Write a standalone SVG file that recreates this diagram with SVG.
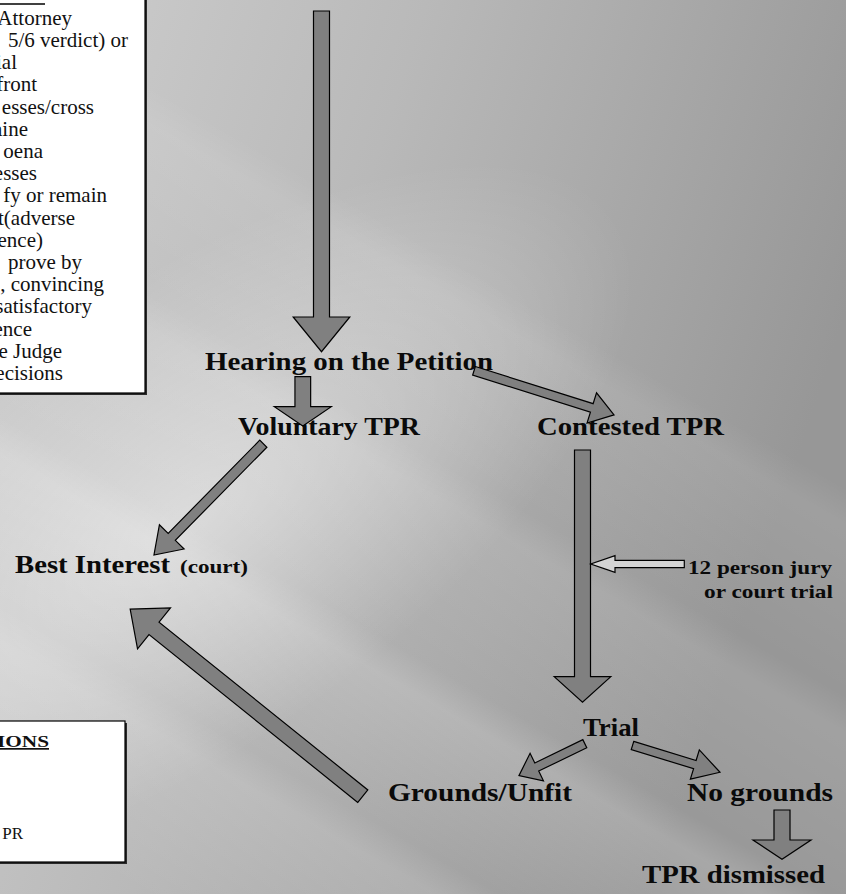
<svg xmlns="http://www.w3.org/2000/svg" width="846" height="894" viewBox="0 0 846 894">
<defs>
<linearGradient id="bg" x1="0" y1="0" x2="1" y2="0.35">
<stop offset="0" stop-color="#cfcfcf"/>
<stop offset="0.45" stop-color="#b9b9b9"/>
<stop offset="1" stop-color="#979797"/>
</linearGradient>
<radialGradient id="glow" gradientUnits="userSpaceOnUse" cx="180" cy="520" r="380" gradientTransform="translate(180 520) rotate(-35) scale(1.4 0.6) translate(-180 -520)">
<stop offset="0" stop-color="#ffffff" stop-opacity="0.45"/>
<stop offset="1" stop-color="#ffffff" stop-opacity="0"/>
</radialGradient>
<linearGradient id="streaks" gradientUnits="userSpaceOnUse" x1="150" y1="900" x2="560" y2="190">
<stop offset="0" stop-color="#fff" stop-opacity="0"/>
<stop offset="0.18" stop-color="#fff" stop-opacity="0.12"/>
<stop offset="0.22" stop-color="#fff" stop-opacity="0"/>
<stop offset="0.38" stop-color="#fff" stop-opacity="0.16"/>
<stop offset="0.42" stop-color="#fff" stop-opacity="0.02"/>
<stop offset="0.6" stop-color="#fff" stop-opacity="0.1"/>
<stop offset="0.64" stop-color="#fff" stop-opacity="0"/>
<stop offset="0.82" stop-color="#fff" stop-opacity="0.08"/>
<stop offset="0.86" stop-color="#fff" stop-opacity="0"/>
<stop offset="1" stop-color="#fff" stop-opacity="0"/>
</linearGradient>
</defs>
<style>
.lbl{font-family:"Liberation Serif","Times New Roman",serif;font-weight:bold;font-size:26px;fill:#0a0a0a}
.sm{font-size:19px}
.box{fill:#fff;stroke:#000;stroke-width:1.2}
.shadow{fill:#2a2a2a}
.bt{font-family:"Liberation Serif","Times New Roman",serif;font-size:21px;fill:#111}
.bh{font-family:"Liberation Serif","Times New Roman",serif;font-size:17px;font-weight:bold;fill:#111;text-decoration:underline}
.arr{fill:#808080;stroke:#000;stroke-width:1.2;stroke-linejoin:miter}
.hol{fill:#d4d4d4;stroke:#000;stroke-width:1.2}
</style>
<rect width="846" height="894" fill="url(#bg)"/>
<rect width="846" height="894" fill="url(#glow)"/>
<rect width="846" height="894" fill="url(#streaks)"/>

<g id="rights-box">
<rect class="shadow" x="-3" y="-3" width="150" height="398"/>
<rect class="box" x="-5" y="-5" width="150" height="398"/>
<line x1="0" y1="4" x2="45" y2="4" stroke="#000" stroke-width="1.6"/>
<g class="bt" text-anchor="end">
<text x="72" y="25">Attorney</text>
<text x="128" y="47">5/6 verdict) or</text>
<text x="17" y="69">ial</text>
<text x="37" y="91">front</text>
<text x="94" y="114">esses/cross</text>
<text x="28" y="136">aine</text>
<text x="43" y="158">oena</text>
<text x="37" y="180">esses</text>
<text x="107" y="202">fy or remain</text>
<text x="75" y="225">t(adverse</text>
<text x="43" y="247">ence)</text>
<text x="82" y="269">prove by</text>
<text x="104" y="291">, convincing</text>
<text x="92" y="313">satisfactory</text>
<text x="32" y="336">ence</text>
<text x="62" y="358">e Judge</text>
<text x="63" y="380">ecisions</text>
</g>
</g>

<g id="options-box">
<rect class="shadow" x="-3" y="723" width="130" height="141"/>
<rect class="box" x="-5" y="721" width="130" height="141"/>
<text class="bh" x="49" y="747" text-anchor="end" textLength="52" lengthAdjust="spacingAndGlyphs">IONS</text>
<text class="bt" x="23" y="839" text-anchor="end" style="font-size:17px">PR</text>
</g>

<g id="hearing"><text class="lbl" x="205" y="370" textLength="288" lengthAdjust="spacingAndGlyphs">Hearing on the Petition</text></g>
<g id="voluntary"><text class="lbl" x="238" y="435" textLength="182" lengthAdjust="spacingAndGlyphs">Voluntary TPR</text></g>
<g id="contested"><text class="lbl" x="537" y="435" textLength="187" lengthAdjust="spacingAndGlyphs">Contested TPR</text></g>
<g id="best-interest"><text class="lbl" x="15" y="573"><tspan textLength="155" lengthAdjust="spacingAndGlyphs">Best Interest</tspan><tspan class="sm" x="180" textLength="68" lengthAdjust="spacingAndGlyphs">(court)</tspan></text></g>
<g id="jury-note">
<text class="lbl sm" x="688" y="574" textLength="144" lengthAdjust="spacingAndGlyphs">12 person jury</text>
<text class="lbl sm" x="704" y="598" textLength="129" lengthAdjust="spacingAndGlyphs">or court trial</text>
</g>
<g id="trial"><text class="lbl" x="583" y="736" textLength="56" lengthAdjust="spacingAndGlyphs">Trial</text></g>
<g id="grounds"><text class="lbl" x="388" y="801" textLength="184" lengthAdjust="spacingAndGlyphs">Grounds/Unfit</text></g>
<g id="no-grounds"><text class="lbl" x="687" y="801" textLength="146" lengthAdjust="spacingAndGlyphs">No grounds</text></g>
<g id="dismissed"><text class="lbl" x="642" y="883" textLength="183" lengthAdjust="spacingAndGlyphs">TPR dismissed</text></g>

<g id="connectors">
<polygon class="arr" transform="translate(321.5 11) rotate(90)" points="0,-8 306,-8 306,-28.3 340.7,0 306,28.3 306,8 0,8"/>
<polygon class="arr" transform="translate(302.8 376.7) rotate(90)" points="0,-7.85 30,-7.85 30,-28.5 49.3,0 30,28.5 30,7.85 0,7.85"/>
<polygon class="arr" transform="translate(474 370.8) rotate(17.5)" points="0,-4.5 123.5,-4.5 123.5,-15.8 146.8,0 123.5,15.8 123.5,4.5 0,4.5"/>
<polygon class="arr" transform="translate(263.3 443.7) rotate(134.5)" points="0,-5 130.6,-5 130.6,-17.3 156,0 130.6,17.3 130.6,5 0,5"/>
<polygon class="arr" transform="translate(362.8 796.2) rotate(218.8)" points="0,-8 267.9,-8 267.9,-26.3 298.5,0 267.9,26.3 267.9,8 0,8"/>
<polygon class="arr" transform="translate(582.5 450) rotate(90)" points="0,-8 226.7,-8 226.7,-28.3 252.3,0 226.7,28.3 226.7,8 0,8"/>
<polygon class="hol" transform="translate(684.3 564) rotate(180)" points="0,-3.7 69.3,-3.7 69.3,-8.4 93.6,0 69.3,8.4 69.3,3.7 0,3.7"/>
<polygon class="arr" transform="translate(584.8 743.7) rotate(154.1)" points="0,-4.5 53.4,-4.5 53.4,-15.3 73.2,0 53.4,15.3 53.4,4.5 0,4.5"/>
<polygon class="arr" transform="translate(632.5 745.5) rotate(17)" points="0,-4.3 65.2,-4.3 65.2,-15.3 91.5,0 65.2,15.3 65.2,4.3 0,4.3"/>
<polygon class="arr" transform="translate(782 810) rotate(90)" points="0,-8 30,-8 30,-29 49.3,0 30,29 30,8 0,8"/>
</g>
</svg>
